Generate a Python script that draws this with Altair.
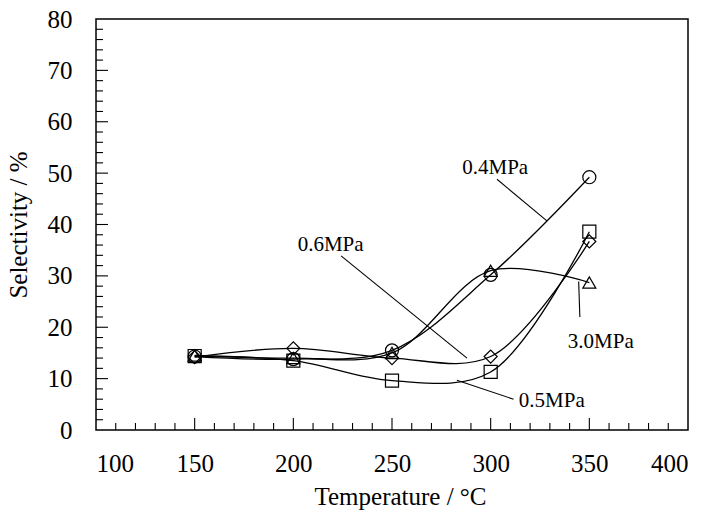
import altair as alt
import pandas as pd

# Selectivity vs. reaction temperature at four pressures
temps = [150, 200, 250, 300, 350]
sel_04 = [14.3, 13.8, 15.5, 30.2, 49.2]
sel_05 = [14.4, 13.5, 9.6, 11.3, 38.6]
sel_06 = [14.2, 15.9, 14.0, 14.3, 36.7]
sel_30 = [14.5, 14.0, 15.0, 31.0, 28.7]

series_names = ["0.4MPa", "0.5MPa", "0.6MPa", "3.0MPa"]
series_shapes = ["circle", "square", "diamond", "triangle-up"]

# Curve labels and their leader lines (data coordinates)
label_text = ["0.4MPa", "0.6MPa", "3.0MPa", "0.5MPa"]
label_x = [302.3, 218.9, 355.8, 331.0]
label_y = [51.0, 36.1, 17.2, 5.7]
leader_x1 = [303.2, 224.2, 345.2, 311.6]
leader_y1 = [48.8, 33.9, 22.0, 6.0]
leader_x2 = [328.5, 288.0, 344.6, 282.9]
leader_y2 = [40.7, 14.0, 28.9, 9.7]

# Axis tick positions
x_major = [150, 200, 250, 300, 350]
x_minor = [t for t in range(110, 400, 10) if t % 50 != 0]
y_major = [10, 20, 30, 40, 50, 60, 70]
y_minor = [v for v in range(2, 80, 2) if v % 10 != 0]
x_labels = [100, 150, 200, 250, 300, 350, 400]
y_labels = [0, 10, 20, 30, 40, 50, 60, 70, 80]

W, H = 592, 411
FONT = "Liberation Serif"

rows = []
for name, vals in zip(series_names, [sel_04, sel_05, sel_06, sel_30]):
    for t, v in zip(temps, vals):
        rows.append({"T": t, "S": v, "series": name})
df = pd.DataFrame(rows)

ann = pd.DataFrame({
    "text": label_text, "tx": label_x, "ty": label_y,
    "x1": leader_x1, "y1": leader_y1, "x2": leader_x2, "y2": leader_y2,
})

xs = alt.Scale(domain=[100, 400], nice=False, zero=False)
ys = alt.Scale(domain=[0, 80], nice=False)

x_enc = alt.X("T:Q", scale=xs, axis=alt.Axis(
    values=x_labels, ticks=False, domain=False, grid=False, format="d",
    labelFont=FONT, labelFontSize=25, labelColor="black", labelPadding=21,
    title="Temperature / °C", titleFont=FONT, titleFontSize=25,
    titleFontWeight="normal", titleColor="black", titlePadding=8, titleX=304))
y_enc = alt.Y("S:Q", scale=ys, axis=alt.Axis(
    values=y_labels, ticks=False, domain=False, grid=False, format="d",
    labelFont=FONT, labelFontSize=25, labelColor="black", labelPadding=24,
    title="Selectivity / %", titleFont=FONT, titleFontSize=25,
    titleFontWeight="normal", titleColor="black", titlePadding=16))

base = alt.Chart(df)

lines = base.mark_line(interpolate="catmull-rom", color="black", strokeWidth=1.3).encode(
    x=x_enc, y=y_enc, detail="series:N")

points = base.mark_point(filled=False, color="black", size=170, strokeWidth=1.2, opacity=1).encode(
    x=alt.X("T:Q", scale=xs), y=alt.Y("S:Q", scale=ys),
    shape=alt.Shape("series:N", scale=alt.Scale(domain=series_names, range=series_shapes), legend=None))

def xticks(vals, length):
    return alt.Chart(pd.DataFrame({"T": vals})).mark_rule(color="black", strokeWidth=1.1).encode(
        x=alt.X("T:Q", scale=xs), y=alt.value(H), y2=alt.value(H - length))

def yticks(vals, length):
    return alt.Chart(pd.DataFrame({"S": vals})).mark_rule(color="black", strokeWidth=1.1).encode(
        y=alt.Y("S:Q", scale=ys), x=alt.value(0), x2=alt.value(length))

leaders = alt.Chart(ann).mark_rule(color="black", strokeWidth=1.1).encode(
    x=alt.X("x1:Q", scale=xs), y=alt.Y("y1:Q", scale=ys),
    x2="x2:Q", y2="y2:Q")

labels = alt.Chart(ann).mark_text(font=FONT, fontSize=21, color="black",
                                  align="center", baseline="middle").encode(
    x=alt.X("tx:Q", scale=xs), y=alt.Y("ty:Q", scale=ys), text="text:N")

chart = alt.layer(
    lines, points,
    xticks(x_major, 12), xticks(x_minor, 7),
    yticks(y_major, 12), yticks(y_minor, 7),
    leaders, labels,
).properties(
    width=W, height=H,
    autosize=alt.AutoSizeParams(type="none"),
    padding={"left": 96, "top": 19, "right": 22, "bottom": 82},
    background="white",
).configure_view(stroke="black", strokeWidth=1.5)

chart.save("out.html", embed_options={"renderer": "svg", "actions": False})
